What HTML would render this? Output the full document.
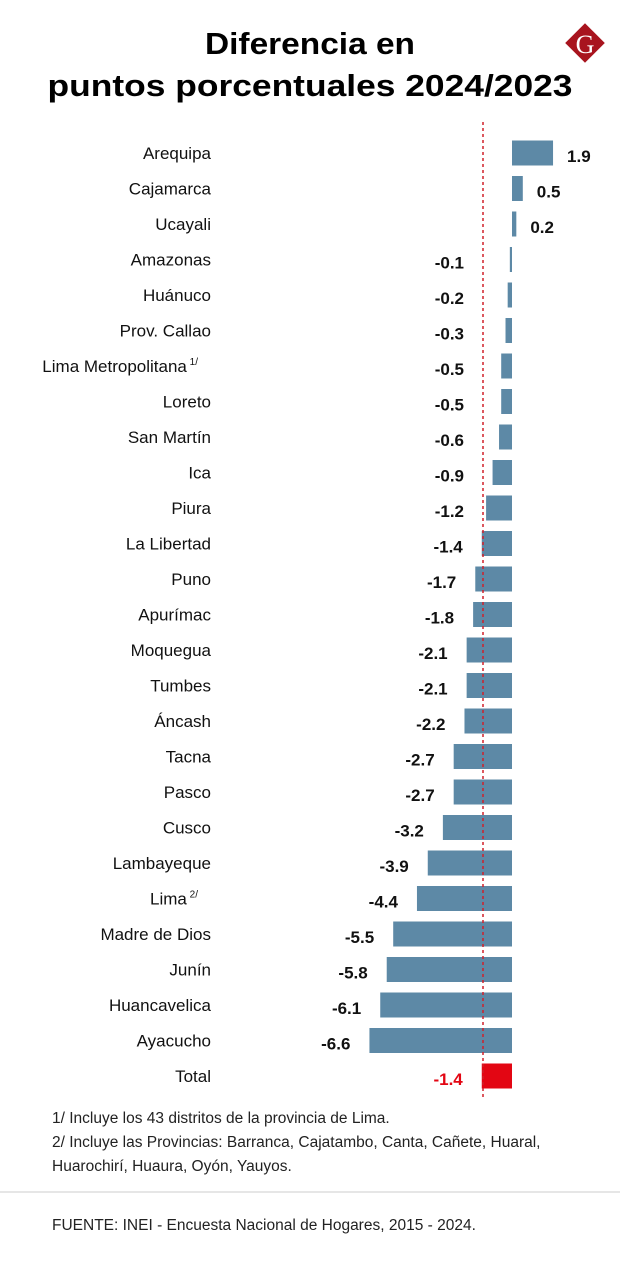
<!DOCTYPE html>
<html><head><meta charset="utf-8"><style>
html,body{margin:0;padding:0;background:#fff;}
svg{display:block;font-family:"Liberation Sans",sans-serif;}
</style></head><body>
<svg id="chart" width="620" height="1269" viewBox="0 0 620 1269">
<text x="310" y="54" text-anchor="middle" font-size="31" font-weight="bold" textLength="210" lengthAdjust="spacingAndGlyphs">Diferencia en</text>
<text x="310" y="96" text-anchor="middle" font-size="31" font-weight="bold" textLength="525" lengthAdjust="spacingAndGlyphs">puntos porcentuales 2024/2023</text>
<g>
<rect x="571" y="29" width="28" height="28" fill="#a8141e" transform="rotate(45 585 43)"/>
<text x="585" y="53" text-anchor="middle" font-size="26" fill="#fff" font-family="Liberation Serif,serif">G</text>
</g>
<g id="bars"></g>
<line x1="483" y1="122" x2="483" y2="1098" stroke="#d0202a" stroke-width="1.5" stroke-dasharray="3,3"/>
<g font-size="15.5" fill="#222">
<text x="52" y="1123">1/ Incluye los 43 distritos de la provincia de Lima.</text>
<text x="52" y="1147">2/ Incluye las Provincias: Barranca, Cajatambo, Canta, Cañete, Huaral,</text>
<text x="52" y="1171">Huarochirí, Huaura, Oyón, Yauyos.</text>
</g>
<line x1="0" y1="1192" x2="620" y2="1192" stroke="#ddd" stroke-width="1.5"/>
<text x="52" y="1230" font-size="15.5" fill="#222">FUENTE: INEI - Encuesta Nacional de Hogares, 2015 - 2024.</text>
</svg>
<script>
const categories=["Arequipa","Cajamarca","Ucayali","Amazonas","Huánuco","Prov. Callao","Lima Metropolitana","Loreto","San Martín","Ica","Piura","La Libertad","Puno","Apurímac","Moquegua","Tumbes","Áncash","Tacna","Pasco","Cusco","Lambayeque","Lima","Madre de Dios","Junín","Huancavelica","Ayacucho","Total"];
const values=[1.9,0.5,0.2,-0.1,-0.2,-0.3,-0.5,-0.5,-0.6,-0.9,-1.2,-1.4,-1.7,-1.8,-2.1,-2.1,-2.2,-2.7,-2.7,-3.2,-3.9,-4.4,-5.5,-5.8,-6.1,-6.6,-1.4];
const superscripts=["","","","","","","1/","","","","","","","","","","","","","","","2/","","","","",""];
const NS="http://www.w3.org/2000/svg";
const x0=512, k=21.6;
function xs(v){return x0+v*k;}
function yc(i){return 153+i*35.5;}
const g=document.getElementById('bars');
function mk(t,a){const e=document.createElementNS(NS,t);for(const n in a)e.setAttribute(n,a[n]);return e;}
categories.forEach((c,i)=>{
  const v=values[i], y=yc(i), isTotal=c==="Total";
  const r=mk('rect',{x:Math.min(xs(v),x0),y:y-12.5,width:Math.max(Math.abs(xs(v)-x0),1.5),height:25,fill:isTotal?'#e30613':'#5d89a6'});
  
  
  g.appendChild(r);
  const lb=mk('text',{x:211,y:y+6,'text-anchor':'end','font-size':17,fill:'#111'});
  lb.textContent=c;
  if(superscripts[i]){lb.setAttribute('x',198);const s=mk('tspan',{'font-size':10,dy:-7});s.textContent=' '+superscripts[i];lb.appendChild(s);}
  
  
  g.appendChild(lb);
  const vl=mk('text',{y:y+9,'font-size':17,'font-weight':'bold',fill:isTotal?'#e30613':'#111'});
  if(v>=0){vl.setAttribute('x',xs(v)+14);}else{vl.setAttribute('x',Math.min(xs(v),483)-19);vl.setAttribute('text-anchor','end');}
  vl.textContent=v.toFixed(1);
  
  
  g.appendChild(vl);
});
</script>
</body></html>
